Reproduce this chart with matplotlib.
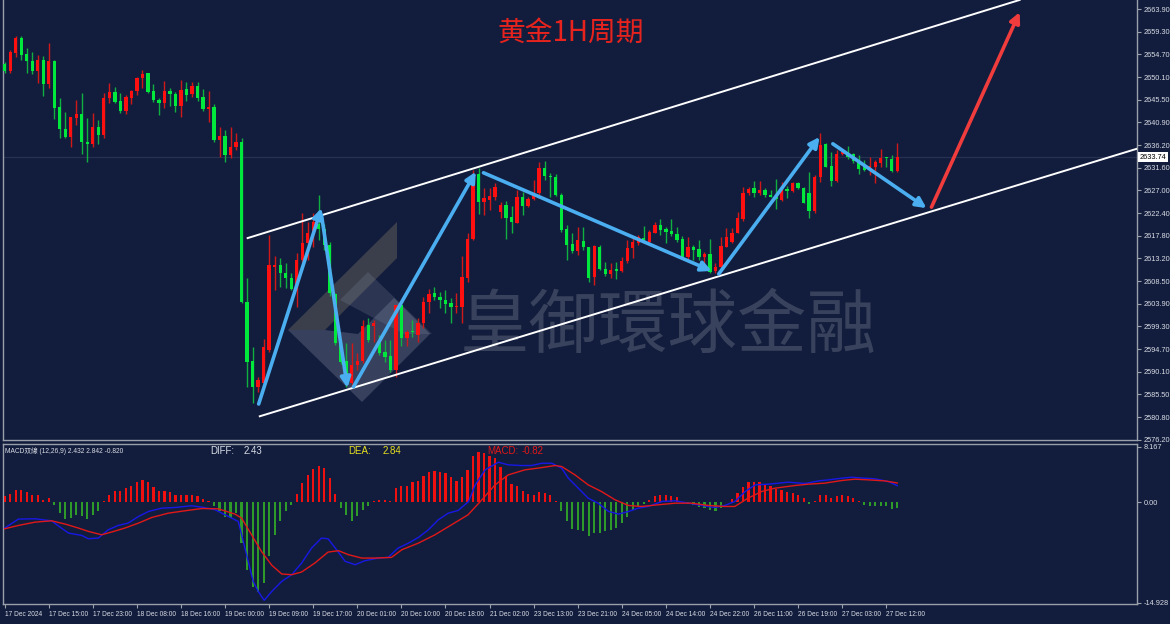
import numpy as np
import matplotlib
matplotlib.use('Agg')
import matplotlib.pyplot as plt
import matplotlib.transforms as mtransforms
from matplotlib.patches import Polygon

# ---------------- data ----------------
opens = [2652.8,2651.3,2655.0,2658.0,2654.8,2653.4,2651.3,2653.6,2648.7,2653.4,
         2644.0,2639.5,2637.9,2641.8,2642.6,2636.9,2636.5,2639.9,2638.3,2645.8,
         2647.0,2645.2,2643.2,2645.8,2647.3,2649.9,2650.9,2647.3,2645.4,2644.8,
         2647.3,2646.6,2644.2,2647.7,2646.6,2648.3,2646.0,2643.6,2644.0,2637.3,
         2638.1,2634.2,2635.9,2636.9,2604.3,2592.2,2587.0,2587.8,2594.5,2611.4,
         2611.8,2610.2,2609.2,2606.7,2612.8,2616.3,2618.3,2620.2,2619.2,2615.9,
         2605.9,2595.9,2592.2,2587.8,2591.4,2592.2,2599.6,2599.4,2596.5,2594.1,
         2593.3,2590.4,2603.7,2596.9,2598.2,2597.6,2600.0,2604.3,2606.1,2605.3,
         2604.7,2604.1,2603.3,2603.3,2609.2,2617.1,2630.4,2624.6,2625.1,2625.7,
         2622.6,2624.0,2621.6,2620.4,2625.7,2623.8,2625.3,2626.5,2631.6,2629.9,
         2629.7,2626.1,2619.2,2616.1,2614.7,2616.7,2615.5,2609.4,2615.5,2611.0,
         2610.0,2611.0,2610.6,2612.6,2615.3,2616.3,2617.3,2616.5,2618.3,2620.0,
         2619.2,2618.7,2618.1,2617.1,2613.4,2615.5,2615.1,2613.4,2614.1,2610.6,
         2611.4,2615.5,2616.5,2618.3,2621.2,2626.5,2627.5,2626.5,2627.1,2626.1,
         2625.7,2625.1,2627.3,2626.9,2628.5,2627.5,2626.5,2622.8,2629.7,2636.5,
         2632.0,2628.9,2634.4,2634.8,2634.4,2633.2,2632.4,2631.2,2631.8,2632.6,
         2633.6,2633.4,2631.0]
closes = [2651.3,2655.2,2658.0,2654.6,2653.4,2651.3,2653.6,2648.7,2653.4,2643.8,
          2639.5,2637.9,2642.0,2642.6,2636.9,2636.5,2639.9,2638.3,2645.8,2647.0,
          2645.0,2643.2,2646.0,2647.3,2649.9,2650.7,2647.0,2645.4,2644.8,2647.3,
          2646.6,2644.2,2647.5,2646.4,2648.3,2645.8,2643.6,2644.0,2637.3,2638.1,
          2634.2,2635.9,2636.9,2604.3,2592.0,2587.0,2588.4,2595.1,2611.8,2611.8,
          2610.2,2609.2,2606.9,2612.8,2616.3,2618.3,2620.6,2619.2,2615.9,2606.1,
          2595.9,2592.0,2587.8,2591.4,2592.2,2599.4,2596.5,2600.0,2593.9,2593.1,
          2590.4,2603.7,2596.9,2598.2,2598.0,2600.0,2604.3,2605.9,2605.3,2604.7,
          2603.9,2603.3,2603.5,2609.4,2617.1,2629.1,2624.6,2625.5,2625.9,2627.7,
          2624.0,2621.4,2620.6,2625.7,2623.8,2625.3,2626.5,2631.6,2629.9,2629.7,
          2626.1,2619.0,2615.9,2614.7,2616.9,2615.5,2609.2,2615.7,2611.0,2610.0,
          2610.8,2610.6,2612.6,2615.3,2616.5,2617.5,2616.5,2618.5,2620.0,2619.0,
          2618.5,2618.1,2616.9,2613.4,2615.5,2614.9,2613.4,2614.1,2610.4,2611.4,
          2615.7,2617.5,2618.3,2621.4,2626.5,2627.3,2626.5,2627.1,2626.1,2625.7,
          2625.3,2627.1,2626.9,2628.5,2627.5,2624.4,2622.8,2629.7,2636.3,2631.8,
          2628.9,2634.4,2634.8,2633.8,2633.0,2631.4,2631.2,2632.0,2632.8,2633.6,
          2633.4,2631.0,2633.74]
highs = [2653.2,2655.6,2658.5,2658.5,2656.0,2655.2,2654.6,2654.4,2657.0,2653.6,
         2645.8,2643.0,2642.0,2645.4,2646.8,2641.8,2642.8,2641.4,2646.8,2648.9,
         2648.1,2646.8,2646.4,2647.5,2650.1,2651.5,2650.9,2648.7,2645.8,2649.3,
         2647.9,2647.0,2649.5,2649.1,2649.1,2649.1,2647.7,2647.3,2644.6,2639.9,
         2639.3,2639.9,2638.7,2637.7,2609.2,2595.1,2589.0,2596.7,2617.9,2613.6,
         2613.2,2612.2,2610.2,2614.3,2622.4,2620.6,2622.4,2626.1,2620.2,2616.5,
         2606.1,2596.3,2595.9,2595.9,2593.9,2600.6,2601.0,2600.6,2597.6,2596.5,
         2596.5,2603.7,2603.9,2598.6,2600.6,2601.0,2605.3,2606.9,2607.3,2606.3,
         2606.7,2605.1,2606.1,2613.6,2618.3,2631.2,2631.6,2627.5,2627.5,2628.5,
         2624.7,2624.8,2623.8,2627.1,2626.7,2625.7,2629.1,2632.8,2633.0,2630.6,
         2630.4,2626.5,2620.0,2618.3,2619.6,2619.6,2615.5,2615.9,2615.9,2612.4,
         2612.2,2612.4,2613.4,2616.9,2617.5,2618.0,2619.8,2618.9,2620.6,2621.2,
         2619.6,2621.2,2619.6,2617.7,2617.5,2615.9,2616.9,2614.5,2617.1,2612.2,
         2617.5,2619.4,2619.4,2622.6,2627.7,2627.7,2628.9,2628.9,2627.5,2627.1,
         2629.3,2628.7,2627.9,2628.7,2628.7,2627.7,2630.8,2630.1,2638.7,2636.7,
         2634.8,2635.2,2635.4,2636.1,2634.6,2634.2,2633.2,2633.8,2633.2,2635.4,
         2633.8,2634.2,2636.7]
lows = [2650.9,2650.9,2654.2,2653.6,2650.9,2650.7,2648.9,2646.2,2647.9,2641.6,
        2637.7,2637.7,2635.9,2640.3,2634.4,2632.8,2635.9,2636.5,2637.7,2644.8,
        2644.8,2642.8,2642.6,2644.6,2646.4,2647.9,2646.8,2645.0,2642.4,2643.8,
        2644.2,2643.0,2642.0,2645.2,2646.0,2645.2,2643.2,2641.0,2636.9,2633.8,
        2632.8,2633.6,2635.2,2604.1,2587.0,2583.8,2586.0,2587.2,2594.1,2606.7,
        2607.3,2607.1,2606.7,2603.3,2612.4,2612.8,2615.5,2616.9,2614.9,2605.5,
        2595.5,2591.6,2587.0,2587.0,2590.4,2591.8,2596.1,2596.1,2593.5,2592.1,
        2590.0,2589.0,2595.3,2595.3,2597.2,2596.1,2599.0,2602.0,2604.7,2603.1,
        2602.0,2600.0,2602.0,2600.0,2608.4,2616.9,2622.2,2622.0,2623.0,2625.1,
        2621.4,2617.1,2618.3,2620.4,2622.0,2623.6,2625.1,2625.5,2629.1,2625.7,
        2625.9,2618.5,2612.8,2614.3,2613.9,2614.9,2608.4,2607.7,2610.8,2609.6,
        2609.2,2609.0,2610.4,2612.2,2613.2,2615.9,2616.3,2616.3,2618.3,2617.9,
        2616.3,2617.7,2616.5,2613.2,2612.4,2612.8,2612.8,2612.2,2610.2,2610.2,
        2611.2,2615.5,2616.3,2618.3,2620.8,2626.1,2625.7,2626.1,2625.7,2625.7,
        2623.2,2624.9,2625.5,2626.7,2627.3,2624.4,2621.4,2622.4,2628.7,2631.8,
        2627.9,2628.7,2634.2,2633.4,2632.6,2630.4,2631.0,2630.2,2628.5,2631.8,
        2631.8,2630.8,2630.8]

macd_hist = [0.84,1.23,1.77,1.77,1.43,1.08,1.08,0.34,0.59,-0.49,
             -1.63,-2.51,-2.36,-1.87,-2.12,-2.46,-1.87,-1.38,0.10,1.08,
             1.58,1.67,2.07,2.41,2.91,3.25,2.91,2.17,1.67,1.72,
             1.48,0.99,1.08,1.08,1.08,0.94,0.44,0.10,-0.64,-1.38,
             -2.22,-2.36,-1.63,-6.06,-10.0,-12.6,-13.3,-12.0,-8.03,-4.93,
             -2.86,-1.28,-0.39,1.23,2.81,4.04,4.93,5.42,5.12,3.55,
             1.23,-0.89,-1.87,-2.86,-2.12,-1.13,-0.64,0.10,0.25,0.34,
             0.20,2.07,2.41,2.41,2.91,3.20,3.94,4.53,4.63,4.53,
             4.29,3.69,3.20,3.65,4.73,6.90,7.39,7.29,6.90,6.50,
             5.27,3.94,2.66,2.32,1.67,1.28,0.99,1.43,1.33,0.99,
             0.20,-1.38,-2.86,-3.94,-4.09,-4.24,-5.07,-4.58,-4.58,-4.33,
             -4.09,-3.84,-3.10,-2.22,-1.23,-0.64,-0.25,0.34,0.94,1.08,
             1.08,0.94,0.69,0.05,-0.30,-0.49,-0.79,-0.89,-1.13,-1.28,
             -0.89,-0.05,0.49,1.33,2.17,3.05,3.05,3.05,2.66,2.32,
             1.97,1.82,1.48,1.33,0.99,0.59,-0.25,0.20,1.08,1.08,
             0.59,0.84,0.99,0.84,0.59,0.10,-0.39,-0.64,-0.64,-0.64,
             -0.64,-1.03,-0.82]

diff_bar = [0,2.5,5.5,8.5,10.3,11.6,14,15.2,17,18.8,20.6,22.4,24.3,26.1,28.5,30.9,33.9,35.8,
            38.2,40.6,42.4,43.3,44.2,45.1,46,47.1,48.5,50.3,52.1,53.9,55.7,57.5,58.7,60,
            61.8,63.6,65.4,67.8,69.6,71.4,73.3,75.1,76.9,78.7,80.5,82.3,84.2,85.4,87.2,
            89.6,91.4,93.8,95.6,97.5,99.3,101.1,102.3,104.1,105.9,107.7,109.6,111.4,113.2,
            115,116.8,119.3,121.7,124.1,126.5,128.9,130.7,132.5,134.4,136.2,138.6,142.2,
            145.3,147.7,149.5,151.9,153.7,156.1,158,160.4,162]
diff_val = [-3.84,-2.51,-2.46,-2.76,-3.84,-4.58,-4.93,-5.42,-5.32,-4.09,-3.45,-3.10,-2.12,-1.38,
            -0.89,-0.79,-0.54,-0.74,-1.13,-2.12,-2.86,-5.81,-8.77,-11.72,-13.2,-14.53,-13.2,
            -11.72,-10.74,-9.01,-6.80,-5.32,-5.42,-6.80,-8.77,-9.26,-8.67,-8.28,-8.18,-6.80,
            -6.06,-5.22,-4.09,-2.61,-1.63,-1.23,0.10,2.56,4.78,5.91,5.52,5.42,5.42,5.76,5.76,
            5.02,3.55,2.07,0.59,-0.15,-1.38,-1.77,-1.38,-0.89,-0.64,0.10,0.20,-0.15,-0.49,
            -0.79,-0.49,0.10,1.58,2.56,2.66,2.96,2.76,3.15,3.30,3.55,3.69,3.55,3.45,3.05,2.43]
dea_bar = [0,2.5,5.5,8.5,11,13.4,15.2,17.6,19.4,21.8,24.3,26.7,29.7,32.7,35.8,38.8,41.8,43,
           44.8,46.6,48.5,50.3,52.1,53.9,56.3,58.7,60.6,62.4,64.8,67.2,70.2,72.1,75.1,78.1,
           81.1,84.1,86.6,89,91.4,94.4,97.5,99.9,101.1,103.5,105.9,108.3,110.8,113.2,115.6,
           118.6,121.7,124.7,127.7,130.7,132.5,134.9,137.4,139.8,143.4,145.8,148.8,151.9,
           154.3,156.7,159.7,162]
dea_val = [-3.94,-3.45,-2.96,-2.76,-3.25,-3.84,-4.33,-4.83,-4.43,-3.84,-3.10,-2.27,-1.63,-1.28,
           -0.94,-0.99,-1.77,-2.36,-4.83,-7.29,-9.36,-10.64,-10.74,-10.34,-9.01,-7.39,-7.19,
           -7.78,-8.28,-8.28,-8.18,-7.04,-6.06,-4.83,-3.35,-1.87,0.34,2.56,4.04,4.78,5.12,
           5.42,5.27,4.04,2.56,1.58,0.34,-0.49,-0.64,-0.39,-0.15,-0.15,-0.49,-0.64,-0.64,
           0.59,1.58,2.07,2.46,2.66,2.81,3.20,3.40,3.30,3.15,2.84]

time_labels = ["17 Dec 2024","17 Dec 15:00","17 Dec 23:00","18 Dec 08:00","18 Dec 16:00",
               "19 Dec 00:00","19 Dec 09:00","19 Dec 17:00","20 Dec 01:00","20 Dec 10:00",
               "20 Dec 18:00","21 Dec 02:00","23 Dec 13:00","23 Dec 21:00","24 Dec 05:00",
               "24 Dec 14:00","24 Dec 22:00","26 Dec 11:00","26 Dec 19:00","27 Dec 03:00",
               "27 Dec 12:00"]
price_ticks = [2663.90,2659.30,2654.70,2650.10,2645.50,2640.90,2636.20,2631.60,2627.00,
               2622.40,2617.80,2613.20,2608.50,2603.90,2599.30,2594.70,2590.10,2585.50,
               2580.80,2576.20]
macd_ticks = [8.167, 0.0, -14.928]
last_price = 2633.74

# channel lines and arrows: (bar, price) endpoints
channel_upper = [(44.1, 2617.3), (184.2, 2665.8)]
channel_lower = [(46.3, 2581.0), (205.8, 2635.6)]
blue_arrows = [((46.1, 2583.5), (57.5, 2623.4)),
               ((57.5, 2622.0), (62.2, 2586.8)),
               ((63.3, 2587.0), (85.5, 2630.8)),
               ((86.9, 2630.6), (128.3, 2610.6)),
               ((129.6, 2610.0), (147.9, 2637.9)),
               ((150.3, 2636.5), (167.3, 2623.4))]
red_arrow = ((168.2, 2623.6), (184.2, 2663.3))

# ---------------- style ----------------
BG = '#121d3d'
UP = '#ff1010'
DN = '#00e83c'
UPW = '#d01818'
DNW = '#10b040'
AX = '#9aa0aa'
TXT = '#d8dce4'
SMALL = ['Liberation Sans', 'DejaVu Sans']

W, H = 1170, 624
fig = plt.figure(figsize=(W/100, H/100), dpi=100, facecolor=BG)

def fx(x): return x / W
def fy(y): return 1 - y / H

ax = fig.add_axes([fx(3), fy(440), fx(1137) - fx(3), fy(0) - fy(440)], facecolor=BG)
ax2 = fig.add_axes([fx(3), fy(604), fx(1137) - fx(3), fy(444) - fy(604)], facecolor=BG)

n = len(opens)
x = np.arange(n)
o = np.array(opens); c = np.array(closes); h = np.array(highs); l = np.array(lows)
up = c >= o

ax.set_xlim(-0.3, 205.5)
ax.set_ylim(2576.17, 2665.79)
ax2.set_xlim(-0.3, 205.5)
ax2.set_ylim(-15.08, 8.61)

# current price line
ax.axhline(last_price, color='#26324f', lw=0.9, zorder=1)

# candles
ax.vlines(x, l, h, colors=np.where(up, UPW, DNW), lw=1.0, zorder=3)
body = np.where(np.abs(c - o) < 0.2, 0.2, c - o)
ax.bar(x, body, bottom=o, width=0.6, color=np.where(up, UP, DN), linewidth=0, zorder=4)

# channel lines
for seg in (channel_upper, channel_lower):
    ax.plot([seg[0][0], seg[1][0]], [seg[0][1], seg[1][1]], color='white', lw=1.4, zorder=5)

# arrows
for (p0, p1) in blue_arrows:
    ax.annotate('', xy=p1, xytext=p0,
                arrowprops=dict(arrowstyle='-|>', color='#4aaef0', lw=2.6,
                                mutation_scale=15, shrinkA=0, shrinkB=0), zorder=6)
ax.annotate('', xy=red_arrow[1], xytext=red_arrow[0],
            arrowprops=dict(arrowstyle='-|>', color='#f03c3c', lw=2.6,
                            mutation_scale=15, shrinkA=0, shrinkB=0), zorder=6)

# watermark (logo + text) in figure pixel space
def figpoly(pts, **kw):
    p = Polygon([(fx(a), fy(b)) for a, b in pts], closed=True, transform=fig.transFigure, **kw)
    ax.add_artist(p)
figpoly([(288, 330), (397, 222), (397, 258), (325, 330)], facecolor='#8a7f6a', alpha=0.35,
        edgecolor='none', zorder=2)
figpoly([(288, 330), (362, 402), (430, 334), (394, 298), (358, 334), (325, 330)],
        facecolor='#7d8498', alpha=0.35, edgecolor='none', zorder=2)
figpoly([(340, 300), (368, 272), (432, 334), (404, 334)], facecolor='#7d8498', alpha=0.25,
        edgecolor='none', zorder=2)
ax.text(fx(668), fy(327), '皇御環球金融', transform=fig.transFigure, ha='center', va='center',
        fontsize=50, color='#8b8f9c', alpha=0.33, family=['Noto Sans CJK TC'], zorder=2)

# title
fig.text(fx(571), fy(33), '黄金1H周期', ha='center', va='center', fontsize=20,
         color='#e8231e', family=['Noto Sans CJK SC'])

# main axis formatting
for s in ax.spines.values():
    s.set_color(AX); s.set_linewidth(1.0)
ax.spines['top'].set_visible(False)
ax.set_xticks([])
ax.yaxis.tick_right()
ax.set_yticks(price_ticks)
ax.set_yticklabels([f'{v:.2f}' for v in price_ticks], family=SMALL)
ax.tick_params(axis='y', colors=AX, labelcolor=TXT, labelsize=5.3, length=3, pad=2, width=0.8)

trans = mtransforms.blended_transform_factory(ax.transAxes, ax.transData)
ax.text(1.0025, last_price, f'{last_price:.2f}', transform=trans, ha='left', va='center',
        fontsize=5.3, color='black', family=SMALL,
        bbox=dict(facecolor='white', edgecolor='none', pad=1.0), zorder=10, clip_on=False)

# MACD panel
hist = np.array(macd_hist)
ax2.bar(x, hist, width=0.4, color=np.where(hist >= 0, '#f01010', '#2e9a2a'), linewidth=0, zorder=3)
ax2.plot(diff_bar, diff_val, color='#1818e6', lw=1.0, zorder=4)
ax2.plot(dea_bar, dea_val, color='#e01818', lw=1.0, zorder=4)
for s in ax2.spines.values():
    s.set_color(AX); s.set_linewidth(1.0)
ax2.yaxis.tick_right()
ax2.set_yticks(macd_ticks)
ax2.set_yticklabels(['8.167', '0.00', '-14.928'], family=SMALL)
ax2.tick_params(axis='y', colors=AX, labelcolor=TXT, labelsize=5.3, length=3, pad=2, width=0.8)
ax2.set_xticks(np.arange(len(time_labels)) * 8)
ax2.set_xticklabels(time_labels, ha='left', family=SMALL)
ax2.tick_params(axis='x', colors=AX, labelcolor=TXT, labelsize=4.8, length=3, pad=2, width=0.8)

fig.text(fx(5), fy(451), 'MACD双線 (12,26,9) 2.432 2.842 -0.820', ha='left', va='center',
         fontsize=4.8, color=TXT, family=['Liberation Sans', 'Noto Sans CJK SC'])
fig.text(fx(210), fy(451), 'DIFF:', ha='left', va='center', fontsize=7, color=TXT, family=SMALL)
fig.text(fx(244), fy(451), '2.43', ha='left', va='center', fontsize=7, color=TXT, family=SMALL)
fig.text(fx(348), fy(451), 'DEA:', ha='left', va='center', fontsize=7, color='#e8e020', family=SMALL)
fig.text(fx(383), fy(451), '2.84', ha='left', va='center', fontsize=7, color='#e8e020', family=SMALL)
fig.text(fx(487), fy(451), 'MACD:', ha='left', va='center', fontsize=7, color='#e01818', family=SMALL)
fig.text(fx(522), fy(451), '-0.82', ha='left', va='center', fontsize=7, color='#e01818', family=SMALL)

fig.savefig('out.png', dpi=100, facecolor=BG)
